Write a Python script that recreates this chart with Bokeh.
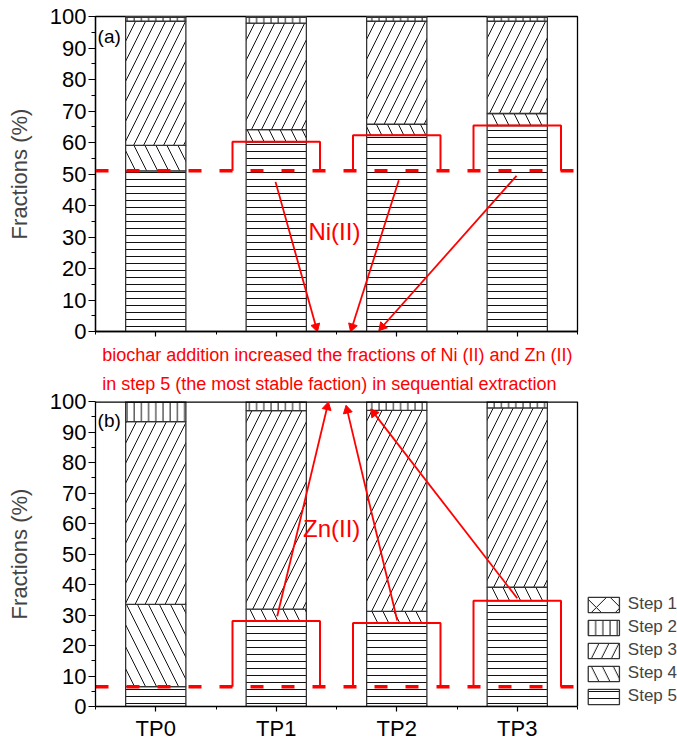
import math
from bokeh.plotting import figure
from bokeh.models import Range1d, FixedTicker, Span, Legend, LegendItem, Title
from bokeh.core.properties import value
from bokeh.embed import file_html
from bokeh.resources import INLINE

FONT = "Liberation Sans"
RED = "#ff0000"

categories = ["TP0", "TP1", "TP2", "TP3"]
y_ticks = [0, 10, 20, 30, 40, 50, 60, 70, 80, 90, 100]
y_minor = [5, 15, 25, 35, 45, 55, 65, 75, 85, 95]
x_minor = [-0.5, 0.5, 1.5, 2.5, 3.5]
step_names = ["Step 1", "Step 2", "Step 3", "Step 4", "Step 5"]

# Ni(II) fractions (%) per step
ni_step1 = [0.3, 0.3, 0.3, 0.3]
ni_step2 = [1.2, 1.8, 1.2, 1.2]
ni_step3 = [39.4, 33.8, 32.7, 29.3]
ni_step4 = [8.1, 3.9, 3.5, 3.8]
ni_step5 = [51.0, 60.2, 62.3, 65.4]

# Zn(II) fractions (%) per step
zn_step1 = [0.2, 0.2, 0.2, 0.2]
zn_step2 = [6.4, 2.8, 2.7, 1.9]
zn_step3 = [59.9, 65.1, 65.9, 58.8]
zn_step4 = [27.0, 3.9, 3.8, 4.4]
zn_step5 = [6.5, 28.0, 27.4, 34.7]

# annotation arrows (start x, start y, end x, end y)
ni_arrow_x0 = [0.994, 2.017, 2.994]
ni_arrow_y0 = [47.5, 48.0, 49.4]
ni_arrow_x1 = [1.33, 1.63, 1.88]
ni_arrow_y1 = [1.5, 1.5, 1.5]
zn_arrow_x0 = [1.008, 2.004, 3.0]
zn_arrow_y0 = [29.6, 28.2, 35.5]
zn_arrow_x1 = [1.423, 1.589, 1.81]
zn_arrow_y1 = [98.2, 97.1, 96.2]

note_lines = ["biochar addition increased the fractions of Ni (II) and Zn (II)",
              "in step 5 (the most stable faction) in sequential extraction"]

hatches = {"Step 1": ("x", 24), "Step 2": ("|", 7.2), "Step 3": ("/", 20),
           "Step 4": ("\\", 22), "Step 5": ("-", 7)}

xs = list(range(len(categories)))
PX_X = 120.5          # pixels per category unit
FIG_W = 677
BORDER_L = 95


def make_panel(steps, base, arrows, px_y, height, border_top, border_bottom,
               panel_label, metal_label, metal_xy, show_labels, legend_room):
    if legend_room:
        x_end = -0.5 + (FIG_W - BORDER_L) / PX_X
        border_r = 0
    else:
        x_end = 3.5
        border_r = FIG_W - BORDER_L - int(4 * PX_X)
    p = figure(width=FIG_W, height=height, output_backend="svg", toolbar_location=None,
               x_range=Range1d(-0.5, x_end), y_range=Range1d(0, 100),
               min_border_left=BORDER_L, min_border_right=border_r,
               min_border_top=border_top, min_border_bottom=border_bottom)
    p.grid.visible = False

    renderers = {}
    bottom = [0.0] * len(xs)
    for name in ["Step 5", "Step 4", "Step 3", "Step 2", "Step 1"]:
        vals = steps[name]
        top = [b + v for b, v in zip(bottom, vals)]
        pat, sc = hatches[name]
        r = p.vbar(x=xs, bottom=bottom, top=top, width=0.5, fill_color="white",
                   line_color="#333333", line_width=1.3, hatch_pattern=pat,
                   hatch_scale=sc, hatch_color="#111111", hatch_weight=1)
        renderers[name] = r
        bottom = top

    if legend_room:
        p.outline_line_color = None
        # panel box: top and right edges
        p.segment(x0=[-0.5], y0=[100], x1=[3.5], y1=[100], line_color="black",
                  line_width=2.6)
        p.segment(x0=[3.5], y0=[0], x1=[3.5], y1=[100], line_color="black",
                  line_width=1.3)
        p.segment(x0=[-0.5], y0=[base], x1=[3.5], y1=[base], line_color=RED,
                  line_width=3.5, line_dash="13 18")
        p.xaxis.bounds = (-0.5, 3.5)
    else:
        p.outline_line_color = "black"
        p.outline_line_width = 1.3
        p.add_layout(Span(location=base, dimension="width", line_color=RED,
                          line_width=3.5, line_dash="13 18"))

    s5 = steps["Step 5"]
    bx, by = [], []
    for i in xs[1:]:
        bx.append([i - 0.363, i - 0.363, i + 0.363, i + 0.363])
        by.append([base, s5[i], s5[i], base])
    p.multi_line(bx, by, line_color=RED, line_width=2)

    x0s, y0s, x1s, y1s = arrows
    p.segment(x0=x0s, y0=y0s, x1=x1s, y1=y1s, line_color=RED, line_width=1.8)
    angles = [math.atan2((b1 - b0) * px_y, (a1 - a0) * PX_X) - math.pi / 2
              for a0, b0, a1, b1 in zip(x0s, y0s, x1s, y1s)]
    p.scatter(x=x1s, y=y1s, marker="triangle", size=9, angle=angles,
              fill_color=RED, line_color=RED)

    p.text(x=[-0.483], y=[93.7], text=[panel_label], text_font=value(FONT),
           text_font_size=value("19px"), text_color="black",
           text_baseline="alphabetic")
    p.text(x=[metal_xy[0]], y=[metal_xy[1]], text=[metal_label], text_font=value(FONT),
           text_font_size=value("24px"), text_color=RED, text_align="center",
           text_baseline="alphabetic")

    p.yaxis.ticker = FixedTicker(ticks=y_ticks, minor_ticks=y_minor)
    p.yaxis.axis_label = "Fractions (%)"
    p.yaxis.axis_label_text_font = FONT
    p.yaxis.axis_label_text_font_size = "22px"
    p.yaxis.axis_label_text_font_style = "normal"
    p.yaxis.axis_label_standoff = 15
    p.yaxis.major_label_text_font = FONT
    p.yaxis.major_label_text_font_size = "22px"
    p.yaxis.major_label_standoff = 2

    p.xaxis.ticker = FixedTicker(ticks=xs, minor_ticks=x_minor)
    if show_labels:
        p.xaxis.major_label_overrides = {i: c for i, c in zip(xs, categories)}
        p.xaxis.major_label_text_font_size = "22px"
        p.xaxis.major_label_standoff = 4
    else:
        p.xaxis.major_label_overrides = {i: "" for i in xs}
        p.xaxis.major_label_text_font_size = "2px"
        p.xaxis.major_label_standoff = 0
    p.xaxis.major_label_text_font = FONT

    for ax in (p.xaxis, p.yaxis):
        ax.axis_line_color = "black"
        ax.axis_line_width = 1.3
        ax.major_tick_line_color = "black"
        ax.minor_tick_line_color = "black"
        ax.major_tick_line_width = 1.2
        ax.minor_tick_line_width = 1.0
        ax.major_tick_in = 0
        ax.minor_tick_in = 0
        ax.major_label_text_color = "black"
    p.yaxis.major_tick_out = 7
    p.yaxis.minor_tick_out = 4
    p.xaxis.major_tick_out = 5
    p.xaxis.minor_tick_out = 3
    return p, renderers


ni_steps = {"Step 1": ni_step1, "Step 2": ni_step2, "Step 3": ni_step3,
            "Step 4": ni_step4, "Step 5": ni_step5}
zn_steps = {"Step 1": zn_step1, "Step 2": zn_step2, "Step 3": zn_step3,
            "Step 4": zn_step4, "Step 5": zn_step5}

top_p, _ = make_panel(ni_steps, ni_step5[0],
                      (ni_arrow_x0, ni_arrow_y0, ni_arrow_x1, ni_arrow_y1), 3.155,
                      height=342, border_top=16, border_bottom=11,
                      panel_label="(a)", metal_label="Ni(II)", metal_xy=(1.483, 31.9),
                      show_labels=False, legend_room=False)

bot_p, rends = make_panel(zn_steps, zn_step5[0],
                          (zn_arrow_x0, zn_arrow_y0, zn_arrow_x1, zn_arrow_y1), 3.133,
                          height=401, border_top=54, border_bottom=34,
                          panel_label="(b)", metal_label="Zn(II)", metal_xy=(1.46, 58.2),
                          show_labels=True, legend_room=True)

for txt, so in [(note_lines[1], 15), (note_lines[0], 0)]:
    bot_p.add_layout(Title(text=txt, text_font=FONT, text_font_size="18px",
                           text_color=RED, text_font_style="normal", align="left",
                           offset=6.7, standoff=so), "above")

legend = Legend(items=[LegendItem(label=n, renderers=[rends[n]]) for n in step_names],
                location="bottom_right", glyph_width=39, glyph_height=19, label_height=19,
                spacing=3, padding=3, margin=0, label_standoff=5,
                label_text_font=FONT, label_text_font_size="17px",
                border_line_color=None, background_fill_alpha=0)
bot_p.add_layout(legend)

open("out.html", "w").write(file_html([top_p, bot_p], INLINE))
